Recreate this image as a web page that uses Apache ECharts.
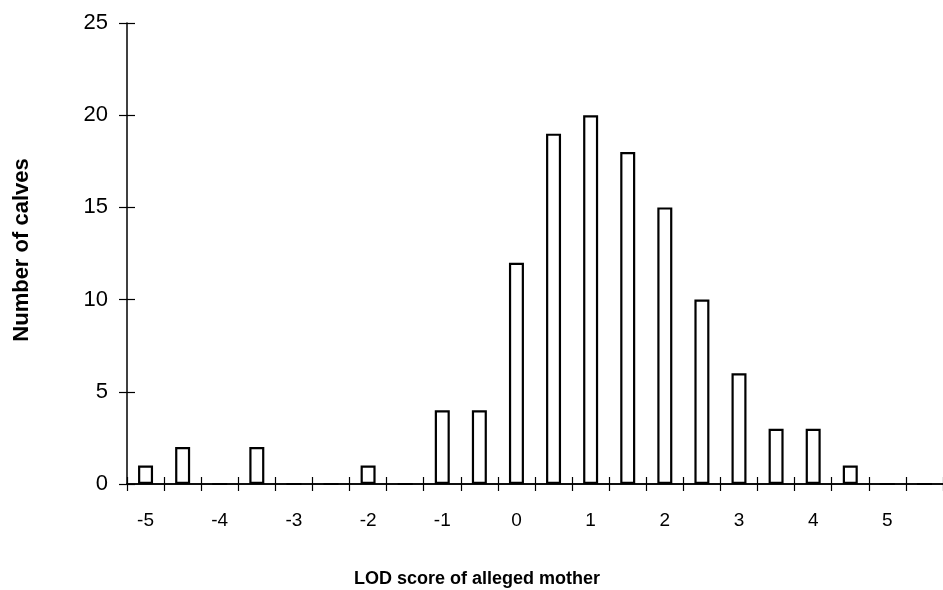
<!DOCTYPE html>
<html>
<head>
<meta charset="utf-8">
<script src="https://cdn.jsdelivr.net/npm/echarts@6/dist/echarts.min.js"></script>
<style>
  html, body { margin: 0; padding: 0; background: #fff; }
  #chart { width: 943px; height: 590px; }
</style>
</head>
<body>
<div id="chart"></div>
<script>
// LOD score bins (step 0.5) and the number of calves in each
const lodBins = ['-5', '-4.5', '-4', '-3.5', '-3', '-2.5', '-2', '-1.5', '-1', '-0.5',
                 '0', '0.5', '1', '1.5', '2', '2.5', '3', '3.5', '4', '4.5', '5', '5.5'];
const calfCounts = [1, 2, 0, 2, 0, 0, 1, 0, 4, 4,
                    12, 19, 20, 18, 15, 10, 6, 3, 3, 1, 0, 0];
const yTicks = [0, 5, 10, 15, 20, 25];

const FONT = 'Liberation Sans, Arial, sans-serif';

const chart = echarts.init(document.getElementById('chart'), null, { renderer: 'canvas' });

const baseX = {
  type: 'category',
  data: lodBins,
  position: 'bottom',
  boundaryGap: true,
  axisLine: { show: true, onZero: false, lineStyle: { color: '#000', width: 1.5 } },
  splitLine: { show: false }
};

chart.setOption({
  animation: false,
  backgroundColor: '#fff',
  grid: { left: 127, top: 23, width: 820, height: 461, containLabel: false },
  xAxis: [
    Object.assign({}, baseX, {
      axisTick: { show: true, interval: 0, inside: false, length: 7, lineStyle: { color: '#000', width: 1.2 } },
      axisLabel: {
        interval: 1, margin: 27, color: '#000', fontSize: 19, fontFamily: FONT,
        formatter: v => v
      }
    }),
    Object.assign({}, baseX, {
      axisTick: { show: true, interval: 0, inside: true, length: 7, lineStyle: { color: '#000', width: 1.2 } },
      axisLabel: { show: false }
    })
  ],
  yAxis: [
    {
      type: 'value', min: yTicks[0], max: yTicks[yTicks.length - 1], interval: 5,
      axisLine: { show: true, lineStyle: { color: '#000', width: 1.5 } },
      axisTick: { show: true, inside: false, length: 8, lineStyle: { color: '#000', width: 1.2 } },
      axisLabel: { margin: 19, color: '#000', fontSize: 22, fontFamily: FONT },
      splitLine: { show: false }
    },
    {
      type: 'value', min: yTicks[0], max: yTicks[yTicks.length - 1], interval: 5,
      position: 'left',
      axisLine: { show: false },
      axisTick: { show: true, inside: true, length: 8, lineStyle: { color: '#000', width: 1.2 } },
      axisLabel: { show: false },
      splitLine: { show: false }
    }
  ],
  series: [{
    type: 'bar',
    xAxisIndex: 0,
    yAxisIndex: 0,
    data: calfCounts,
    barWidth: 15,
    itemStyle: { color: '#fff', borderColor: '#000', borderWidth: 2.2 },
    z: 1
  }],
  graphic: [
    {
      type: 'text',
      left: 479 - 125, top: 570,
      style: {
        text: 'LOD score of alleged mother',
        fontSize: 18, fontWeight: 'bold', fontFamily: FONT, fill: '#000',
        width: 250, align: 'center'
      }
    },
    {
      type: 'text',
      x: 22, y: 250,
      rotation: Math.PI / 2,
      style: {
        text: 'Number of calves',
        fontSize: 22, fontWeight: 'bold', fontFamily: FONT, fill: '#000',
        align: 'center', verticalAlign: 'middle'
      }
    }
  ]
});
</script>
</body>
</html>
